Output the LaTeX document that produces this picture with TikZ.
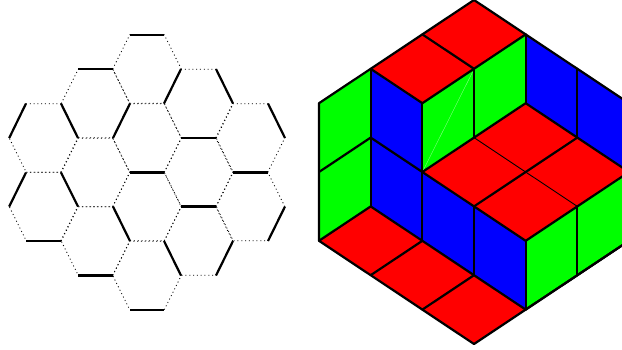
\documentclass[tikz,border=0pt]{standalone}
\definecolor{pureg}{RGB}{0,255,0}
\definecolor{purer}{RGB}{255,0,0}
\definecolor{pureb}{RGB}{0,0,255}
\tikzset{
  dotedge/.style={line width=0.8pt,dash pattern=on 1pt off 2.8pt},
  solidedge/.style={line width=2.2pt},
  thickedge/.style={line width=2.2pt,line join=round,line cap=round},
  thinedge/.style={line width=0.9pt},
  faint/.style={line width=0.35pt,draw=green!45!white},
  lattice/.style={x=51.67pt,y=-34.4pt,shift={(319pt,0pt)}}
}
\begin{document}
\begin{tikzpicture}[x=1pt,y=-1pt]
\useasboundingbox (0,0) rectangle (622,349);
\fill[white] (0,0) rectangle (622,349);
% hexagon grid, dotted
\foreach \cx/\cy in {147/69,147/138,147/206.5,147/275.5,95.5/103.5,95.5/172.5,95.5/241,198.5/103.5,198.5/172.5,198.5/241,43.5/138,43.5/206.5,250.5/138,250.5/206.5}{
  \draw[dotedge] (\cx-34.3,\cy) -- (\cx-17.2,\cy-34.3) -- (\cx+17.2,\cy-34.3) -- (\cx+34.3,\cy) -- (\cx+17.2,\cy+34.3) -- (\cx-17.2,\cy+34.3) -- cycle;
}
% solid edges
\foreach \a/\b/\c/\d in {
 130/34.7/164/34.7, 78/69/113/69,
 26/103.5/9.2/138, 61/103.5/78/138, 113/138/130/103.5, 164/103.5/181/69,
 216/69/233/103.5, 268/103.5/285/138,
 181/138/216/138, 233/172.5/268/172.5, 130/172.5/164/172.5,
 26/172.5/9.2/206.5, 61/172.5/78/206.5, 113/206.5/130/241,
 164/241/181/275.5, 216/275.5/233/241, 268/241/285/206.5,
 181/206.5/216/206.5, 26/241/61/241, 78/275.5/113/275.5, 130/310/164/310}{
  \draw[solidedge] (\a,\b) -- (\c,\d);
}
% rhombus tiling
\begin{scope}
\clip (0,0) rectangle (622,349);
\begin{scope}[lattice]
\fill[purer] (3,0)--(4,1)--(3,2)--(2,1)--cycle;
\fill[purer] (2,1)--(3,2)--(2,3)--(1,2)--cycle;
\fill[purer] (4,3)--(5,4)--(4,5)--(3,4)--cycle;
\fill[purer] (5,4)--(6,5)--(5,6)--(4,5)--cycle;
\fill[purer] (3,4)--(4,5)--(3,6)--(2,5)--cycle;
\fill[purer] (4,5)--(5,6)--(4,7)--(3,6)--cycle;
\fill[purer] (0,7)--(1,6)--(2,7)--(1,8)--cycle;
\fill[purer] (1,8)--(2,7)--(3,8)--(2,9)--cycle;
\fill[purer] (2,9)--(3,8)--(4,9)--(3,10)--cycle;
\fill[pureg] (0,3)--(1,2)--(1,4)--(0,5)--cycle;
\fill[pureg] (0,5)--(1,4)--(1,6)--(0,7)--cycle;
\fill[pureg] (2,3)--(3,2)--(3,4)--(2,5)--cycle;
\fill[pureg] (3,2)--(4,1)--(4,3)--(3,4)--cycle;
\fill[pureg] (4,7)--(5,6)--(5,8)--(4,9)--cycle;
\fill[pureg] (5,6)--(6,5)--(6,7)--(5,8)--cycle;
\fill[pureb] (1,2)--(2,3)--(2,5)--(1,4)--cycle;
\fill[pureb] (1,4)--(2,5)--(2,7)--(1,6)--cycle;
\fill[pureb] (4,1)--(5,2)--(5,4)--(4,3)--cycle;
\fill[pureb] (5,2)--(6,3)--(6,5)--(5,4)--cycle;
\fill[pureb] (2,5)--(3,6)--(3,8)--(2,7)--cycle;
\fill[pureb] (3,6)--(4,7)--(4,9)--(3,8)--cycle;
\draw[faint] (2,5) -- (2.97,2.1);
\draw[thinedge] (3,4) -- (4,5) -- (5,6);
\draw[thickedge] (6,3) -- (3,0) -- (0,3) -- (0,7) -- (3,10) -- (6,7);
\draw[thickedge] (2,1) -- (3,2) -- (4,1);
\draw[thickedge] (1,2) -- (2,3) -- (3,2);
\draw[thickedge] (1,2) -- (1,6);
\draw[thickedge] (0,5) -- (1,4) -- (2,5);
\draw[thickedge] (2,3) -- (2,7);
\draw[thickedge] (3,2) -- (3,4);
\draw[thickedge] (4,1) -- (4,3);
\draw[thickedge] (5,2) -- (5,4);
\draw[thickedge] (2,5) -- (3,4) -- (4,3) -- (5,4) -- (6,5);
\draw[thickedge] (5,4) -- (4,5) -- (3,6);
\draw[thickedge] (2,5) -- (3,6) -- (4,7) -- (5,6) -- (6,5);
\draw[thickedge] (3,6) -- (3,8);
\draw[thickedge] (4,7) -- (4,9);
\draw[thickedge] (5,6) -- (5,8);
\draw[thickedge] (0,7) -- (1,6) -- (2,7) -- (3,8) -- (4,9) -- (5,8) -- (6,7);
\draw[thickedge] (1,8) -- (2,7);
\draw[thickedge] (2,9) -- (3,8);
\end{scope}
\end{scope}
\end{tikzpicture}
\end{document}
